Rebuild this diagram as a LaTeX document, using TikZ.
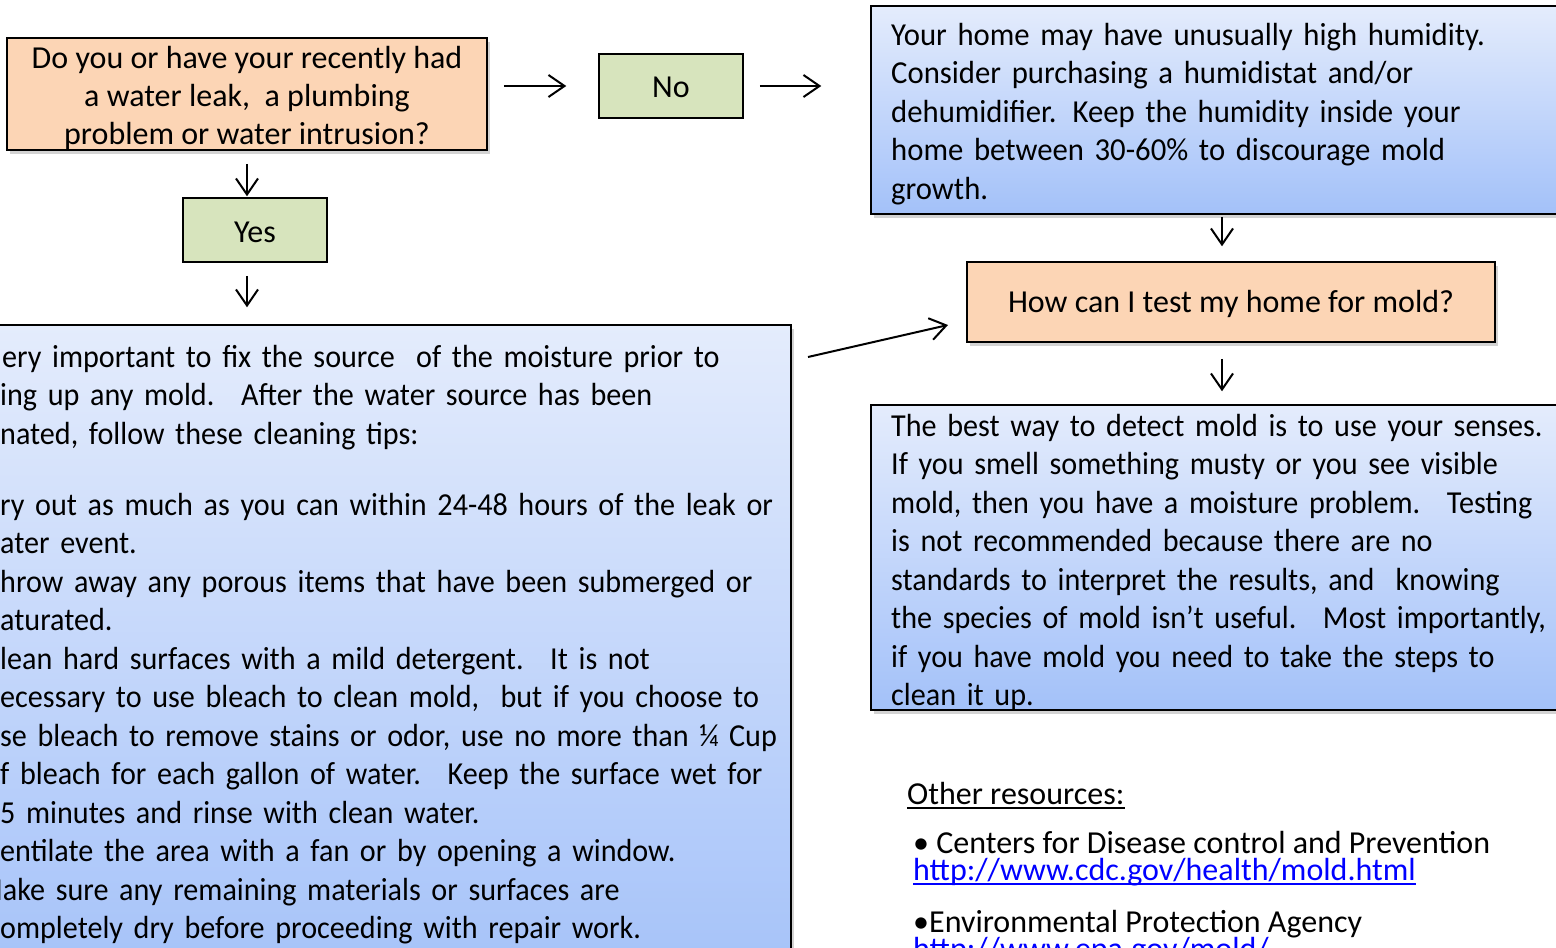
\documentclass[tikz,border=0pt]{standalone}
\usepackage{fontspec}
\setmainfont{Carlito}
\newfontfamily\bluefont[FakeStretch=0.942]{Carlito}
\newfontfamily\humfont[FakeStretch=0.96]{Carlito}
\usetikzlibrary{arrows.meta,shadows}
\definecolor{peach}{HTML}{FCD5B5}
\definecolor{sage}{HTML}{D7E4BD}
\definecolor{bluetop}{HTML}{E4ECFC}
\definecolor{bluebot}{HTML}{A3C1F9}
\definecolor{linkblue}{HTML}{0000FF}
\newcommand{\lowered}[2]{\raisebox{-#1}[\height][\depth]{#2}}
\tikzset{
  shbox/.style={draw=black,line width=1.5pt,drop shadow={shadow xshift=3pt,shadow yshift=-4pt,opacity=0.35}},
  orangebox/.style={shbox,fill=peach},
  greenbox/.style={draw=black,line width=1.5pt,fill=sage},
  bluebox/.style={shbox,top color=bluetop,bottom color=bluebot},
  arr/.style={-{Straight Barb[length=16pt,width=22pt,line width=2pt]},line width=2pt},
  txt/.style={font=\fontsize{32}{38.5}\selectfont,inner sep=0pt},
  body/.style={font=\bluefont\fontsize{32}{38.5}\selectfont,inner sep=0pt,align=left,anchor=base west,text width=760pt},
  uline/.style={line width=1.5pt}
}
\begin{document}
\begin{tikzpicture}[x=1pt,y=-1pt]
\useasboundingbox (0,0) rectangle (1556,948);
\clip (0,0) rectangle (1556,948);
% boxes
\node[orangebox,minimum width=480,minimum height=112,txt] (q1) at (247,94)
  {\lowered{4pt}{\parbox{470pt}{\centering\fontsize{32}{38}\selectfont Do you or have your recently had\\a water leak,~ a plumbing\\problem or water intrusion?}}};
\node[greenbox,minimum width=144,minimum height=64,txt] (no) at (671,86) {\lowered{1pt}{No}};
\node[greenbox,minimum width=144,minimum height=64,txt] (yes) at (255,230) {\lowered{2pt}{Yes}};
\node[bluebox,minimum width=702,minimum height=208] (hum) at (1222,110) {};
\node[orangebox,minimum width=528,minimum height=80,txt] (test) at (1231,302) {\lowered{2pt}{How can I test my home for mold?}};
\node[bluebox,minimum width=702,minimum height=305] (detect) at (1222,557.5) {};
\node[bluebox,minimum width=1091,minimum height=675] (clean) at (245.5,662.5) {};
% texts
\node[body,font=\humfont\fontsize{32}{38.5}\selectfont] (humtext) at (891,45) {Your home may have unusually high humidity.\\Consider purchasing a humidistat and/or\\dehumidifier. Keep the humidity inside your\\home between 30-60\% to discourage mold\\growth.};
\node[body] (detecttext) at (891,436) {The best way to detect mold is to use your senses.\\If you smell something musty or you see visible\\mold, then you have a moisture problem.~ Testing\\is not recommended because there are no\\standards to interpret the results, and~ knowing\\the species of mold isn’t useful.~ Most importantly,\\if you have mold you need to take the steps to\\clean it up.};
\node[body,text width=800pt] (cleantext) at (2,367) {ery important to fix the source~ of the moisture prior to\\\hspace*{-2pt}ing up any mold.~ After the water source has been\\\hspace*{-2pt}nated, follow these cleaning tips:\\[32.5pt]
\hspace*{-2pt}ry out as much as you can within 24-48 hours of the leak or\\\hspace*{-2pt}ater event.\\\hspace*{-2pt}hrow away any porous items that have been submerged or\\\hspace*{-2pt}aturated.\\\hspace*{-2pt}lean hard surfaces with a mild detergent.~ It is not\\\hspace*{-2pt}ecessary to use bleach to clean mold,~ but if you choose to\\\hspace*{-2pt}se bleach to remove stains or odor, use no more than ¼ Cup\\\hspace*{-2pt}f bleach for each gallon of water.~ Keep the surface wet for\\\hspace*{-2pt}5 minutes and rinse with clean water.\\\hspace*{-2pt}entilate the area with a fan or by opening a window.\\\hspace*{-25pt}Make sure any remaining materials or surfaces are\\\hspace*{-2pt}ompletely dry before proceeding with repair work.};
% resources
\node[txt,anchor=base west] (other) at (907,804) {Other resources:};
\node[txt,anchor=base west] (cdc) at (913,853) {• Centers for Disease control and Prevention};
\node[txt,anchor=base west,text=linkblue] (cdclink) at (913,880) {http://www.cdc.gov/health/mold.html};
\node[txt,anchor=base west] (epa) at (913,932) {•Environmental Protection Agency};
\node[txt,anchor=base west,text=linkblue] (epalink) at (913,959) {http://www.epa.gov/mold/};
\draw[uline] ([yshift=-4pt]other.base west) -- ([yshift=-4pt]other.base east);
\draw[uline,draw=linkblue] ([yshift=-4pt]cdclink.base west) -- ([yshift=-4pt]cdclink.base east);
\draw[uline,draw=linkblue] ([yshift=-4pt]epalink.base west) -- ([yshift=-4pt]epalink.base east);
% connectors
\draw[arr,shorten <=16pt,shorten >=32pt] (q1.east |- no.west) -- (no.west);
\draw[arr,shorten <=16pt,shorten >=49pt] (no.east) -- (no.east -| hum.west);
\draw[arr,shorten <=13pt,shorten >=1pt] (q1.south) -- (q1.south |- yes.north);
\draw[arr,shorten <=13pt,shorten >=17pt] (q1.south |- yes.south) -- (q1.south |- clean.north);
\draw[arr,shorten <=2pt,shorten >=15pt] (hum.south) -- (hum.south |- test.north);
\draw[arr,shorten <=16pt,shorten >=13pt] (detect.north |- test.south) -- (detect.north);
\coordinate (d0) at (808,357);
\coordinate (d1) at (948,325);
\draw[arr] (d0) -- (d1);
\end{tikzpicture}
\end{document}
